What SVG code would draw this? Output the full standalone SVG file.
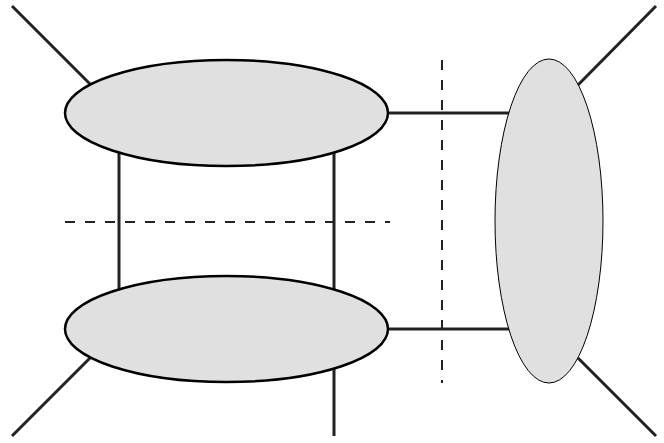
<svg xmlns="http://www.w3.org/2000/svg" width="664" height="443" viewBox="0 0 664 443">
<style>
.ln{stroke:#222;stroke-width:3;fill:none}
.ds{stroke:#222;stroke-width:2;fill:none;stroke-dasharray:10 10}
.ov{fill:#e0e0e0;stroke:#000;stroke-width:2.5}
.ov2{fill:#e0e0e0;stroke:#000;stroke-width:1}
</style>
<rect width="664" height="443" fill="#fff"/>
<g id="connectors">
<line class="ln" x1="12" y1="6" x2="90" y2="84"/>
<line class="ln" x1="12" y1="436" x2="90" y2="358"/>
<line class="ln" x1="656" y1="6" x2="578" y2="85"/>
<line class="ln" x1="578" y1="358" x2="656" y2="436"/>
<line class="ln" x1="119" y1="150" x2="119" y2="292"/>
<line class="ln" x1="334" y1="150" x2="334" y2="436"/>
<line class="ln" x1="386" y1="113" x2="510" y2="113"/>
<line class="ln" x1="386" y1="329" x2="510" y2="329"/>
<line class="ds" x1="65" y1="222" x2="390" y2="222"/>
<line class="ds" x1="442" y1="60" x2="442" y2="383"/>
</g>
<g id="node1"><ellipse class="ov" cx="226.5" cy="113" rx="161.5" ry="53"/></g>
<g id="node2"><ellipse class="ov" cx="226.5" cy="329" rx="161.5" ry="53"/></g>
<g id="node3"><ellipse class="ov2" cx="549" cy="221" rx="54" ry="162"/></g>
</svg>
